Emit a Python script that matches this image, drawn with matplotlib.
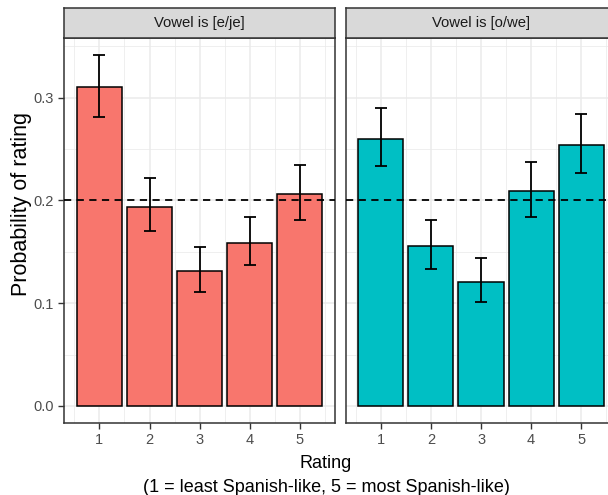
import numpy as np
import matplotlib
matplotlib.use("Agg")
import matplotlib.pyplot as plt

plt.rcParams['font.family'] = ['Liberation Sans', 'DejaVu Sans']

# datos
ratings = [1, 2, 3, 4, 5]
panels = ["Vowel is [e/je]", "Vowel is [o/we]"]
prob_e = [0.310, 0.194, 0.131, 0.159, 0.206]
low_e = [0.281, 0.170, 0.111, 0.137, 0.181]
high_e = [0.341, 0.222, 0.155, 0.184, 0.234]
prob_o = [0.260, 0.156, 0.121, 0.209, 0.254]
low_o = [0.233, 0.133, 0.101, 0.184, 0.227]
high_o = [0.290, 0.181, 0.144, 0.237, 0.284]
colores = ["#F8766D", "#00BFC4"]
chance = 0.2

W, H = 608, 495
fig = plt.figure(figsize=(W / 100, H / 100), dpi=100)


def px_axes(x0, y0, x1, y1):
    return fig.add_axes([x0 / W, 1 - y1 / H, (x1 - x0) / W, (y1 - y0) / H])


series = [(prob_e, low_e, high_e), (prob_o, low_o, high_o)]
lefts = [64.3, 345.7]
pw = 270.7

for i, (prob, low, high) in enumerate(series):
    x0 = lefts[i]
    ax = px_axes(x0, 38, x0 + pw, 423)
    x = np.array(ratings)
    prob = np.array(prob)
    yerr = [prob - np.array(low), np.array(high) - prob]
    ax.set_axisbelow(True)
    ax.bar(x, prob, width=0.9, color=colores[i], edgecolor="black", linewidth=1.1, zorder=2)
    ax.errorbar(x, prob, yerr=yerr, fmt="none", ecolor="black", elinewidth=1.3,
                capsize=4, capthick=1.3, zorder=3)
    ax.axhline(chance, color="black", linestyle=(0, (4, 3)), linewidth=1.3, zorder=4)
    ax.set_xlim(0.3, 5.7)
    ax.set_ylim(-0.0166, 0.358)
    ax.set_xticks(ratings)
    ax.set_xticks([0.5, 1.5, 2.5, 3.5, 4.5, 5.5], minor=True)
    ax.set_yticks([0.0, 0.1, 0.2, 0.3])
    ax.set_yticks([0.05, 0.15, 0.25, 0.35], minor=True)
    ax.grid(True, which="major", color="#EBEBEB", linewidth=1.1)
    ax.grid(True, which="minor", color="#EBEBEB", linewidth=0.55)
    ax.tick_params(which="minor", length=0)
    ax.tick_params(which="major", length=4, width=1, color="#333333",
                   labelsize=10.5, labelcolor="#4D4D4D", pad=3.5)
    if i == 0:
        ax.set_yticklabels(["0.0", "0.1", "0.2", "0.3"])
    else:
        ax.tick_params(axis="y", which="both", left=False, labelleft=False)
    for s in ax.spines.values():
        s.set_color("#333333")
        s.set_linewidth(1.1)

    # tira del facet
    sx = px_axes(x0, 8.3, x0 + pw, 37.7)
    sx.set_xticks([])
    sx.set_yticks([])
    sx.set_facecolor("#D9D9D9")
    for s in sx.spines.values():
        s.set_color("#333333")
        s.set_linewidth(1.1)
    sx.text(0.5, 0.5, panels[i], ha="center", va="center", fontsize=10.7,
            color="#1A1A1A", transform=sx.transAxes)

fig.text(22 / W, 1 - 204 / H, "Probability of rating", rotation=90,
         ha="center", va="center", fontsize=15.5)
fig.text(326 / W, 1 - 463 / H, "Rating", ha="center", va="center", fontsize=13)
fig.text(326 / W, 1 - 488 / H, "(1 = least Spanish-like, 5 = most Spanish-like)",
         ha="center", va="center", fontsize=13)

fig.savefig("out.png", dpi=100)
